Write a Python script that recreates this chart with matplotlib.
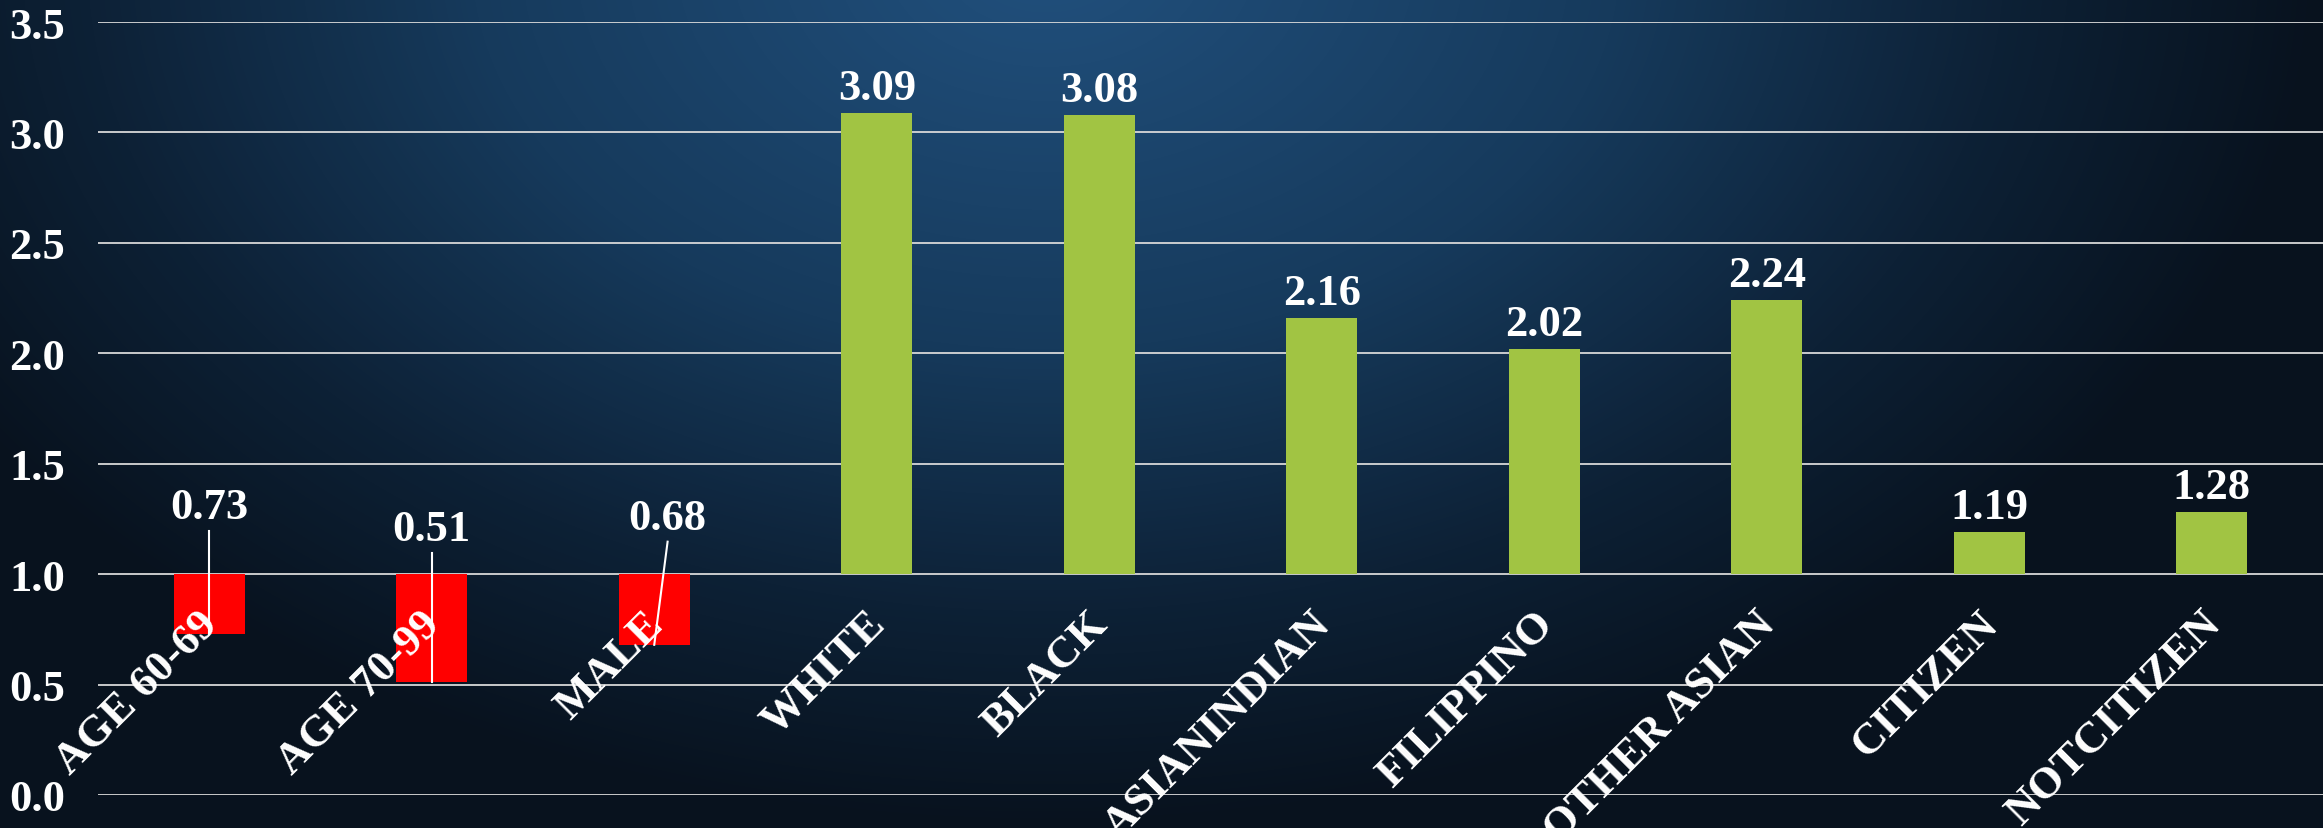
import numpy as np
import matplotlib
matplotlib.use("Agg")
import matplotlib.pyplot as plt
from matplotlib.colors import LinearSegmentedColormap

# ---- data ----
categories = ["AGE 60-69", "AGE 70-99", "MALE", "WHITE", "BLACK",
              "ASIANINDIAN", "FILIPPINO", "OTHER ASIAN", "CITIZEN", "NOTCITIZEN"]
values = [0.73, 0.51, 0.68, 3.09, 3.08, 2.16, 2.02, 2.24, 1.19, 1.28]
baseline = 1.0
yticks = [0.0, 0.5, 1.0, 1.5, 2.0, 2.5, 3.0, 3.5]
# label placement for bars below baseline (data-y of label baseline, x shift)
low_label_y = [1.254, 1.154, 1.204]
low_label_dx = [0.0, 0.0, 0.06]

W, H, DPI = 2323, 829, 100
fig = plt.figure(figsize=(W / DPI, H / DPI), dpi=DPI)

# ---- background gradient ----
bg = fig.add_axes([0, 0, 1, 1], zorder=-10)
yy, xx = np.mgrid[0:H, 0:W]
r = np.sqrt(((xx - 0.45 * W) / (0.55 * W)) ** 2 + ((yy + 0.05 * H) / (1.05 * H)) ** 2)
r = np.clip(r, 0, 1)
cmap = LinearSegmentedColormap.from_list(
    "bgc", [(0, "#21507d"), (0.45, "#163a5c"), (0.75, "#0d2136"), (1.0, "#08121e")])
bg.imshow(r, cmap=cmap, vmin=0, vmax=1, aspect="auto", interpolation="bilinear")
bg.set_axis_off()

font = "Liberation Serif"
FS = 32
ax = fig.add_axes([98 / W, 33 / H, 1 - 98 / W, (796 - 23) / H])
ax.set_facecolor("none")
ax.set_xlim(-0.5, len(categories) - 0.5)
ax.set_ylim(0, 3.5)
for s in ax.spines.values():
    s.set_visible(False)
ax.set_yticks(yticks)
ax.set_yticklabels([f"{t:.1f}" for t in yticks], fontsize=FS, fontweight="bold",
                   color="white", family=font)
ax.tick_params(axis="y", length=0, pad=64)
for lab in ax.get_yticklabels():
    lab.set_horizontalalignment("left")
ax.set_xticks([])
ax.yaxis.grid(True, color="#d8d8d8", lw=1.3, zorder=0)
ax.set_axisbelow(True)

x = np.arange(len(categories))
heights = [v - baseline for v in values]
colors = ["#ff0000" if v < baseline else "#a1c443" for v in values]
ax.bar(x, heights, bottom=baseline, width=0.32, color=colors, zorder=2)

# value labels
li = 0
for i, v in enumerate(values):
    if v >= baseline:
        ax.annotate(f"{v:.2f}", xy=(i, v), xytext=(0, 10), textcoords="offset points",
                    ha="center", va="baseline", fontsize=FS, fontweight="bold",
                    color="white", family=font, zorder=5)
    else:
        lx = i + low_label_dx[li]
        ly = low_label_y[li]
        ax.text(lx, ly, f"{v:.2f}", ha="center", va="baseline", fontsize=FS,
                fontweight="bold", color="white", family=font, zorder=5)
        ax.plot([lx, i], [ly - 0.057, v], color="white", lw=1.5, zorder=4)
        li += 1

# category labels
for i, c in enumerate(categories):
    ax.annotate(c, xy=(i, baseline), xytext=(12, -21), textcoords="offset points",
                rotation=45, ha="right", va="top", fontsize=FS, fontweight="bold",
                color="white", family=font, zorder=6, annotation_clip=False)

fig.savefig("out.png", dpi=DPI)
